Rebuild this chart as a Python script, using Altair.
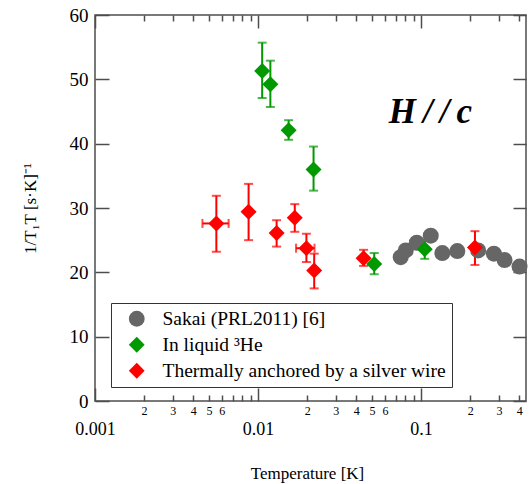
import altair as alt
import pandas as pd

# ---------------- data ----------------
sakai_T = [0.0750, 0.0805, 0.0941, 0.1146, 0.135, 0.1668, 0.224, 0.2796, 0.325, 0.4016]
sakai_R = [22.35, 23.4, 24.6, 25.7, 23.0, 23.3, 23.4, 22.9, 21.9, 20.9]

liquid_T = [0.0106, 0.0119, 0.0154, 0.0219, 0.0516, 0.1053]
liquid_R = [51.3, 49.25, 42.1, 36.0, 21.3, 23.6]
liquid_lo = [47.1, 45.7, 40.6, 32.7, 19.7, 22.1]
liquid_hi = [55.7, 52.9, 43.65, 39.55, 23.0, 24.9]

silver_T = [0.00555, 0.00875, 0.0130, 0.0168, 0.0198, 0.0221, 0.0444, 0.214]
silver_R = [27.6, 29.4, 26.1, 28.5, 23.75, 20.3, 22.2, 23.85]
silver_lo = [23.2, 25.0, 24.0, 26.3, 21.6, 17.5, 21.0, 21.15]
silver_hi = [31.9, 33.75, 28.1, 30.6, 26.0, 22.9, 23.5, 26.4]

# horizontal error bars (silver series)
silver_xerr_R = [27.6, 23.75]
silver_xerr_lo = [0.00456, 0.0171]
silver_xerr_hi = [0.0066, 0.0222]

series_names = ["Sakai (PRL2011) [6]", "In liquid ³He", "Thermally anchored by a silver wire"]

x_major = [0.001, 0.01, 0.1]
x_minor = [0.002, 0.003, 0.004, 0.005, 0.006, 0.007, 0.008, 0.009,
           0.02, 0.03, 0.04, 0.05, 0.06, 0.07, 0.08, 0.09,
           0.2, 0.3, 0.4]
x_minor_labeled = [0.002, 0.003, 0.004, 0.005, 0.006,
                   0.02, 0.03, 0.04, 0.05, 0.06,
                   0.2, 0.3, 0.4]
y_ticks = [0, 10, 20, 30, 40, 50, 60]
x_domain = [0.001, 0.44]
y_domain = [0, 60]

annotation = "H\u2009/\u2009/\u2009c"
annotation_T = [0.114]
annotation_R = [44.9]

# ---------------- styling ----------------
SERIF = "Liberation Serif"
W, H = 431, 386
GRAY, GREEN, RED = "#666666", "#009900", "#ff0000"
FRAME = "#4d4d4d"

xs = alt.Scale(type="log", domain=x_domain)
ys = alt.Scale(domain=y_domain)

pts = pd.DataFrame({
    "T": sakai_T + silver_T + liquid_T,
    "R": sakai_R + silver_R + liquid_R,
    "series": [series_names[0]] * len(sakai_T)
    + [series_names[2]] * len(silver_T)
    + [series_names[1]] * len(liquid_T),
})

err = pd.DataFrame({
    "T": silver_T + liquid_T,
    "lo": silver_lo + liquid_lo,
    "hi": silver_hi + liquid_hi,
    "col": [RED] * len(silver_T) + [GREEN] * len(liquid_T),
})
caps = pd.concat([
    err[["T", "col"]].assign(v=err["lo"]),
    err[["T", "col"]].assign(v=err["hi"]),
])
xerr = pd.DataFrame({"R": silver_xerr_R, "lo": silver_xerr_lo, "hi": silver_xerr_hi,
                     "col": [RED] * len(silver_xerr_R)})
xcaps = pd.concat([
    xerr[["R", "col"]].assign(v=xerr["lo"]),
    xerr[["R", "col"]].assign(v=xerr["hi"]),
])

ann = pd.DataFrame({"T": annotation_T, "R": annotation_R, "txt": [annotation]})

carrier = pd.DataFrame({"v": [0.01], "w": [10]})


def X(field, axis=None):
    return alt.X(field, scale=xs, axis=axis)


def Y(field, axis=None):
    return alt.Y(field, scale=ys, axis=axis)


ccol = alt.Color("col:N", scale=None)

yerr_rules = alt.Chart(err).mark_rule(strokeWidth=2).encode(
    x=X("T:Q"), y=Y("lo:Q"), y2="hi:Q", color=ccol)
yerr_caps = alt.Chart(caps).mark_tick(orient="horizontal", size=9, thickness=2).encode(
    x=X("T:Q"), y=Y("v:Q"), color=ccol)
xerr_rules = alt.Chart(xerr).mark_rule(strokeWidth=2).encode(
    x=X("lo:Q"), x2="hi:Q", y=Y("R:Q"), color=ccol)
xerr_caps = alt.Chart(xcaps).mark_tick(orient="vertical", size=9, thickness=2).encode(
    x=X("v:Q"), y=Y("R:Q"), color=ccol)

points = alt.Chart(pts).mark_point(filled=True, size=256, opacity=1, strokeWidth=0).encode(
    x=X("T:Q"),
    y=Y("R:Q"),
    color=alt.Color("series:N", title=None,
                    scale=alt.Scale(domain=series_names, range=[GRAY, GREEN, RED])),
    shape=alt.Shape("series:N", title=None,
                    scale=alt.Scale(domain=series_names, range=["circle", "diamond", "diamond"])),
)

text = alt.Chart(ann).mark_text(font=SERIF, fontSize=35, fontStyle="italic",
                                fontWeight="bold", color="black").encode(
    x=X("T:Q"), y=Y("R:Q"), text="txt:N")

# ---------------- axes (carried by invisible layers) ----------------
common_tick = dict(labels=False, domain=False, grid=False, title=None,
                   tickColor=FRAME, tickWidth=1.5)

x_axes = [
    alt.Axis(orient="bottom", values=x_minor_labeled,
             labelExpr="substring(format(datum.value, '.0e'), 0, 1)",
             ticks=False, domain=False, grid=False, title=None,
             labelFontSize=12, labelPadding=4, labelOverlap=False, labelFlush=False),
    alt.Axis(orient="bottom", values=x_major, format=".3~f",
             ticks=False, domain=False, grid=False,
             labelFontSize=18, labelPadding=19, labelOverlap=False, labelFlush=False,
             title="Temperature [K]", titleFontSize=17, titleFontWeight="normal",
             titleX=212, titleY=72, titleBaseline="middle", titleAlign="center"),
    alt.Axis(orient="top", offset=-H, values=x_major, tickSize=13, **common_tick),
    alt.Axis(orient="top", offset=-H, values=x_minor, tickSize=6, **common_tick),
    alt.Axis(orient="bottom", offset=-H, values=x_major, tickSize=13, **common_tick),
    alt.Axis(orient="bottom", offset=-H, values=x_minor, tickSize=6, **common_tick),
]
y_axes = [
    alt.Axis(orient="left", values=y_ticks, ticks=False, domain=False, grid=False,
             labelFontSize=19, labelPadding=7,
             title="1/T₁T [s·K]⁻¹", titleFontSize=17, titleFontWeight="normal",
             titleX=-65, titleY=H / 2, titleAngle=270, titleBaseline="middle",
             titleAlign="center"),
    alt.Axis(orient="right", offset=-W, values=y_ticks, tickSize=14, **common_tick),
    alt.Axis(orient="left", offset=-W, values=y_ticks, tickSize=13, **common_tick),
]

axis_layers = [
    alt.Chart(carrier).mark_point(opacity=0).encode(x=X("v:Q", ax)) for ax in x_axes
] + [
    alt.Chart(carrier).mark_point(opacity=0).encode(y=Y("w:Q", ax)) for ax in y_axes
]

chart = alt.layer(
    yerr_rules, yerr_caps, xerr_rules, xerr_caps, points, text, *axis_layers
).resolve_axis(
    x="independent", y="independent"
).properties(
    width=W, height=H,
    autosize=alt.AutoSizeParams(type="none"),
    padding={"left": 95, "top": 15, "right": 3, "bottom": 83},
    background="white",
).configure_view(
    stroke=FRAME, strokeWidth=1.5
).configure_axis(
    labelFont=SERIF, titleFont=SERIF, labelColor="black", titleColor="black",
).configure_legend(
    orient="none", legendX=16, legendY=288,
    strokeColor="#333333", fillColor="white", padding=6,
    labelFont=SERIF, labelFontSize=19.5, labelColor="black", labelLimit=500,
    symbolOffset=10, labelOffset=16, rowPadding=5, symbolSize=250,
    symbolStrokeWidth=0, symbolOpacity=1,
)

chart.save("out.html", embed_options={"renderer": "svg", "actions": False})
